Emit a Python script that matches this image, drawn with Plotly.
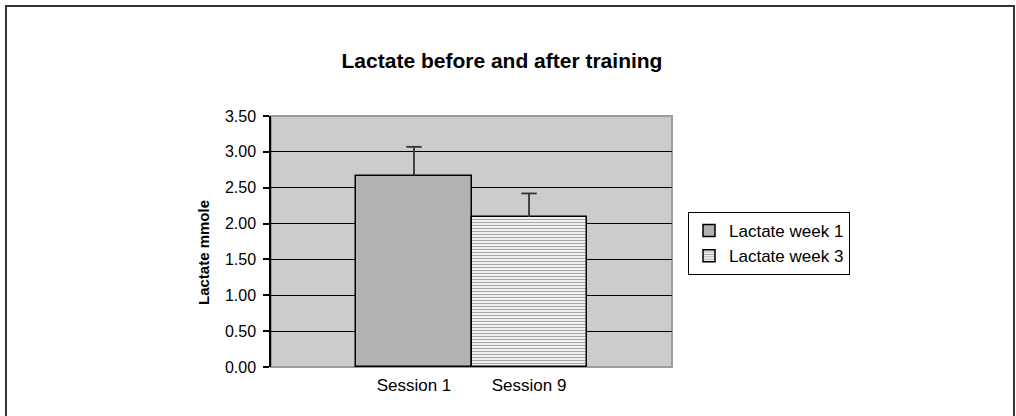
import plotly.graph_objects as go

# Data
categories = ["Session 1", "Session 9"]
series_names = ["Lactate week 1", "Lactate week 3"]
means = [2.67, 2.09]
errors = [0.40, 0.33]
y_ticks = [0.0, 0.5, 1.0, 1.5, 2.0, 2.5, 3.0, 3.5]

FONT = "Liberation Sans, Arial, Helvetica, sans-serif"

fig = go.Figure()

# Series 1: solid gray
fig.add_trace(go.Bar(
    x=[categories[0]], y=[means[0]], name=series_names[0],
    width=1.0,
    marker=dict(color="#b2b2b2", line=dict(color="black", width=1.5)),
))
# Series 2: horizontal line pattern
fig.add_trace(go.Bar(
    x=[categories[1]], y=[means[1]], name=series_names[1],
    width=1.0,
    marker=dict(color="white", line=dict(color="black", width=1.5),
                pattern=dict(shape="-", fgcolor="#a8a8a8", bgcolor="white",
                             size=3, solidity=0.45, fillmode="replace")),
))

# Upper-only error bars (stem from bar top, cap at mean + error)
for cat, m, e in zip(categories, means, errors):
    fig.add_trace(go.Scatter(
        x=[cat, cat], y=[m, m + e], mode="lines",
        line=dict(color="#333333", width=1.8),
        showlegend=False, hoverinfo="skip",
    ))
    fig.add_trace(go.Scatter(
        x=[cat], y=[m + e], mode="markers",
        marker=dict(symbol="line-ew", size=11,
                    line=dict(color="#333333", width=1.8)),
        showlegend=False, hoverinfo="skip",
    ))

L, R, T, B = 271, 672, 116, 367
W, H = 1016, 416
pw, ph = R - L, B - T

def px(xp):
    return (xp - L) / pw

def py(yp):
    return (B - yp) / ph

fig.update_layout(
    width=W, height=H,
    margin=dict(l=L, r=W - R, t=T, b=H - B, pad=0),
    paper_bgcolor="white",
    plot_bgcolor="#cccccc",
    barmode="overlay",
    bargap=0,
    font=dict(family=FONT, color="black", size=16),
    title=dict(text="<b>Lactate before and after training</b>",
               font=dict(family=FONT, size=21, color="black"),
               xref="container", x=502 / W, xanchor="center",
               yref="container", y=1 - 61 / H, yanchor="middle"),
    showlegend=True,
    legend=dict(x=px(688), y=py(212), xanchor="left", yanchor="top",
                bgcolor="white", bordercolor="black", borderwidth=1,
                font=dict(family=FONT, size=17, color="black"),
                tracegroupgap=0, itemwidth=30),
    xaxis=dict(type="category", categoryorder="array", categoryarray=categories,
               range=[-1.243, 2.243], showgrid=False, zeroline=False,
               showline=False, ticks="", tickfont=dict(size=17),
               ticklabelstandoff=6),
    yaxis=dict(range=[0, 3.5], tickvals=y_ticks, tickformat=".2f",
               showgrid=True, gridcolor="black", gridwidth=1,
               zeroline=False, showline=True, linecolor="black", linewidth=1.5,
               ticks="outside", ticklen=6, tickcolor="black", tickwidth=1.5,
               tickfont=dict(size=16), ticklabelstandoff=4),
)

# plot-area border (gray)
fig.add_shape(type="rect", xref="paper", yref="paper", x0=0, y0=0, x1=1, y1=1,
              line=dict(color="#9c9c9c", width=2), layer="below")
# outer chart border
fig.add_shape(type="rect", xref="paper", yref="paper",
              x0=px(6), y0=py(430), x1=px(1014), y1=py(6),
              line=dict(color="#333333", width=2), fillcolor="rgba(0,0,0,0)")

# y-axis title
fig.add_annotation(text="<b>Lactate mmole</b>", xref="paper", yref="paper",
                   x=px(203), y=py(253), textangle=-90, showarrow=False,
                   xanchor="center", yanchor="middle",
                   font=dict(family=FONT, size=15, color="black"))

fig.write_html("out.html",
               config={"displayModeBar": False},
               post_script="document.body.style.margin='0px';document.body.style.padding='0px';")
